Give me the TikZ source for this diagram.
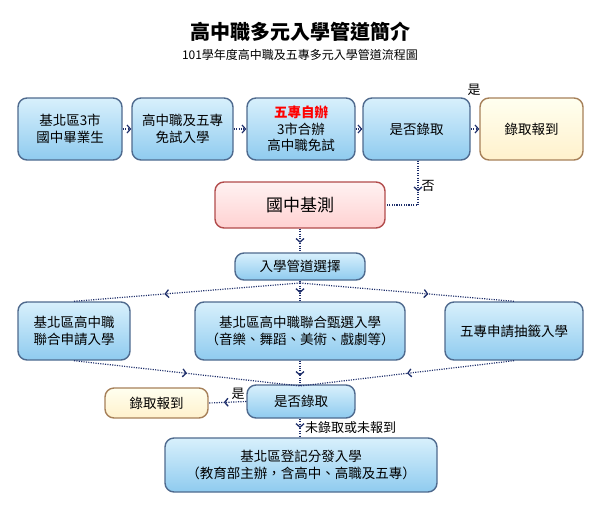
\documentclass[tikz,border=0pt]{standalone}
\usepackage{fontspec}
\setmainfont{Noto Sans CJK TC}
\usetikzlibrary{arrows.meta,decorations.markings}
\definecolor{nav}{HTML}{1F2F6B}
\definecolor{bd}{HTML}{4F6A8E}
\definecolor{bt}{HTML}{D8F0FC}
\definecolor{bb}{HTML}{8FCBEF}
\tikzset{
 bbox/.style={rounded corners=9pt,draw=bd,line width=1.4pt,top color=bt,bottom color=bb,align=center,font=\fontsize{13.5}{16.5}\selectfont,inner sep=0pt},
 ybox/.style={bbox,draw=brown!60!gray,top color=yellow!6,bottom color=yellow!45!orange!20},
 pbox/.style={bbox,draw=red!40!gray,top color=pink!20,bottom color=pink!80!red!45,font=\fontsize{17}{20}\selectfont},
 dl/.style={nav,line width=1.2pt,dash pattern=on 1.1pt off 1.3pt},
 midarr/.style={postaction={decorate},decoration={markings,mark=at position #1 with {\arrow[solid,line width=1.3pt]{Straight Barb[length=3.5pt,width=8pt]}}}},
 lab/.style={font=\fontsize{13}{15}\selectfont,inner sep=1pt}
}
\begin{document}
\begin{tikzpicture}[x=1pt,y=-1pt]
\useasboundingbox (0,0) rectangle (600,515);
\node[font=\bfseries\fontsize{20}{23}\selectfont] (t) at (300,32) {高中職多元入學管道簡介};
\node[font=\fontsize{12}{14}\selectfont] (st) at (300,55) {101學年度高中職及五專多元入學管道流程圖};
\node[bbox,minimum width=104pt,minimum height=62pt] (a1) at (70,129) {基北區3市\\國中畢業生};
\node[bbox,minimum width=101pt,minimum height=62pt] (a2) at (182.5,129) {高中職及五專\\免試入學};
\node[bbox,minimum width=108pt,minimum height=62pt] (a3) at (301,129) {\textcolor{red}{\bfseries 五專自辦}\\3市合辦\\高中職免試};
\node[bbox,minimum width=107pt,minimum height=62pt] (a4) at (416.5,129) {是否錄取};
\node[ybox,minimum width=103pt,minimum height=62pt] (a5) at (531.5,129) {錄取報到};
\foreach \p/\q in {a1/a2,a2/a3,a3/a4,a4/a5}
  \draw[dl,-{Straight Barb[length=3.5pt,width=8pt]}] (\p) -- (\q);
\node[lab] (yes1) at (474,90) {是};
\node[pbox,minimum width=170pt,minimum height=46pt] (b) at (300,205) {國中基測};
\coordinate (c1) at (418,205);
\draw[dl,midarr=0.4] (a4.south -| c1) -- (c1) -- (b.east);
\node[lab] (no1) at (428,186) {否};
\node[bbox,minimum width=130pt,minimum height=27pt] (c) at (300,266.5) {入學管道選擇};
\draw[dl,midarr=0.6] (b) -- (c);
\node[bbox,minimum width=112pt,minimum height=58pt] (d1) at (74,331) {基北區高中職\\聯合申請入學};
\node[bbox,minimum width=210pt,minimum height=58pt] (d2) at (300,331) {基北區高中職聯合甄選入學\\（音樂、舞蹈、美術、戲劇等）};
\node[bbox,minimum width=138pt,minimum height=58pt] (d3) at (514,331) {五專申請抽籤入學};
\coordinate (sp) at (300,283);
\draw[dl,midarr=0.6] (sp) -- (d1.north);
\draw[dl,midarr=0.6] (sp) -- (d3.north);
\draw[dl,midarr=0.6] (c.south) -- (d2.north);
\node[bbox,minimum width=108pt,minimum height=33pt] (e) at (301,401.5) {是否錄取};
\coordinate (jn) at (300,386);
\draw[dl,midarr=0.5] (d1.south) -- (jn);
\draw[dl,midarr=0.5] (d3.south) -- (jn);
\draw[dl,midarr=0.6] (d2.south) -- (jn);
\node[ybox,minimum width=103pt,minimum height=30pt] (f) at (156.5,403) {錄取報到};
\draw[dl,midarr=0.6] (e.west) -- (f.east);
\node[lab] (yes2) at (238,394) {是};
\node[bbox,minimum width=272pt,minimum height=54pt] (g) at (301,465) {基北區登記分發入學\\（教育部主辦，含高中、高職及五專）};
\draw[dl,midarr=0.5] (e.south -| jn) -- (g.north -| jn);
\node[lab,anchor=west] (no2) at (304,428) {未錄取或未報到};
\end{tikzpicture}
\end{document}
